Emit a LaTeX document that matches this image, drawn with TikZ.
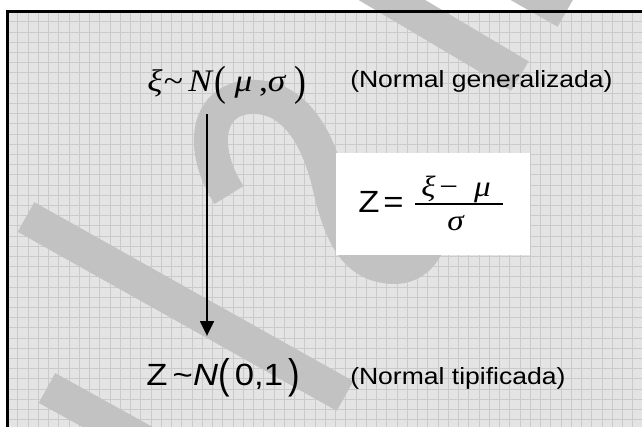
\documentclass[tikz,border=0pt]{standalone}
\usepackage{fontspec}
\usepackage{graphicx}
\setmainfont{Liberation Serif}
\newfontfamily\lsans[FakeStretch=1.13]{Liberation Sans}
\newfontfamily\lserif[FakeStretch=1.13]{Liberation Serif}
\usetikzlibrary{arrows.meta}
\definecolor{gridbg}{HTML}{E4E4E4}
\definecolor{gridln}{HTML}{CACACA}
\definecolor{wm}{HTML}{C2C2C2}
\newcommand{\tallparen}[1]{\raisebox{-2.8pt}{\scalebox{1.0}[1.35]{#1}}}
\tikzset{
  wmband/.style={draw=wm, line width=25.5pt, line cap=butt},
  lbl/.style={anchor=base west, inner sep=0pt, font=\lsans\fontsize{17.6}{20}\selectfont},
  mathexpr/.style={anchor=base west, inner sep=0pt},
  arr/.style={line width=1pt, -{Triangle[length=11pt,width=10.5pt]}},
}
\begin{document}
\begin{tikzpicture}[x=0.75pt,y=-0.75pt]
\useasboundingbox (0,0) rectangle (642,427);
\fill[white] (0,0) rectangle (642,427);
\fill[gridbg] (7.7,11.7) rectangle (642,427);
\foreach \i in {1,...,62} \draw[gridln, line width=0.75pt] ({7.7+10.25*\i},11.7) -- ({7.7+10.25*\i},427);
\foreach \j in {1,...,41} \draw[gridln, line width=0.75pt] (7.7,{11.7+10.2*\j}) -- (642,{11.7+10.2*\j});
% watermark strokes
\draw[wmband] (26,217) -- (345,396);
\draw[wmband] (47,388) -- (170,456);
\draw[wmband] (343,-29) -- (520,76);
\draw[wmband] (480,-37) -- (566,12);
\draw[wmband] (229,195) .. controls (200,150) and (205,100) .. (250,97)
  .. controls (290,95) and (315,130) .. (328,180)
  .. controls (340,235) and (355,265) .. (392,267)
  .. controls (420,268) and (432,245) .. (440,205);
% frame
\draw[line width=2.55pt] (7.7,427) -- (7.7,11.7) -- (642,11.7);
% formula box
\node[fill=white, minimum width=145.5pt, minimum height=76.5pt, inner sep=0pt] (box) at (433,204) {};
\node[mathexpr, font=\lsans\fontsize{23}{26}\selectfont] (zeq) at (358,213) {Z\hspace{3pt}=};
\node[mathexpr, font=\lserif\fontsize{22}{26}\selectfont] (num) at (421,197) {\textit{ξ}\hspace{3pt}−\hspace{12pt}\textit{μ}};
\node[mathexpr, font=\lserif\fontsize{22}{26}\selectfont] (den) at (447,231) {\textit{σ}};
\draw[line width=1pt] (415,204) -- (503,204);
% expressions
\node[mathexpr, font=\lserif\fontsize{23.5}{26}\selectfont] (gen) at (147,92)
  {\textit{ξ}\hspace{1pt}\textasciitilde\hspace{4pt}\textit{N}\hspace{1pt}\tallparen{(}\hspace{6pt}\textit{μ}\hspace{5pt},\textit{σ}\hspace{6pt}\tallparen{)}};
\node[lbl] (genlbl) at (350,88) {(Normal generalizada)};
\node[mathexpr, font=\lsans\fontsize{23}{26}\selectfont] (tip) at (146,385)
  {Z\hspace{4pt}\textasciitilde\textit{N}\tallparen{(}\hspace{4pt}0,1\hspace{4pt}\tallparen{)}};
\node[lbl] (tiplbl) at (350,384) {(Normal tipificada)};
% arrow
\coordinate (ax) at (207,0);
\draw[arr, shorten <=7pt, shorten >=17pt] (gen.south -| ax) -- (tip.north -| ax);
\end{tikzpicture}
\end{document}
